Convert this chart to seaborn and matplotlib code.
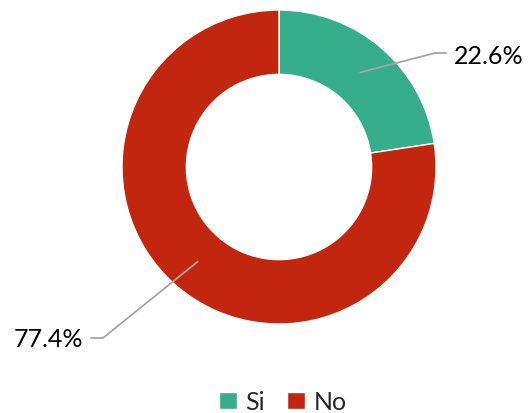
import numpy as np
import matplotlib
matplotlib.use("Agg")
import matplotlib.pyplot as plt
import seaborn as sns
from matplotlib.patches import Patch

sns.set_theme(style="white")
plt.rcParams['font.family'] = ['Lato', 'DejaVu Sans']

# data
labels = ["Si", "No"]
values = [22.6, 77.4]
colors = ["#36AE8B", "#C3260F"]

fig = plt.figure(figsize=(5.29, 4.14), dpi=100)
ax = fig.add_axes([0, 0, 1, 1])

cx, cy, r_out = 279, 246, 157
ring = 0.41
wedges, _ = ax.pie(values, colors=colors, startangle=90, counterclock=False,
                   center=(cx, cy), radius=r_out,
                   wedgeprops=dict(width=r_out * ring, edgecolor="white", linewidth=1))

ax.set_xlim(0, 529)
ax.set_ylim(0, 414)
ax.set_aspect("equal")
ax.axis("off")

# leader lines and labels
r_mid = r_out * (1 - ring / 2)
label_spots = [((435, 360), (446, 360), (454, 358), "left"),
               ((103, 75), (91, 75), (83, 74), "right")]
for w, v, (elbow, end, txt, ha) in zip(wedges, values, label_spots):
    ang = np.deg2rad((w.theta1 + w.theta2) / 2)
    px, py = cx + r_mid * np.cos(ang), cy + r_mid * np.sin(ang)
    ax.plot([px, elbow[0], end[0]], [py, elbow[1], end[1]], color="#A6A6A6", lw=1.3)
    ax.text(txt[0], txt[1], f"{v:.1f}%", ha=ha, va="center", fontsize=18, color="black")

handles = [Patch(facecolor=c, label=l) for c, l in zip(colors, labels)]
fig.legend(handles=handles, loc="center", bbox_to_anchor=(0.535, 0.027), ncol=2,
           frameon=False, fontsize=18, handlelength=0.7, handleheight=0.7,
           handletextpad=0.35, columnspacing=0.9)

plt.savefig("out.png", dpi=100)
